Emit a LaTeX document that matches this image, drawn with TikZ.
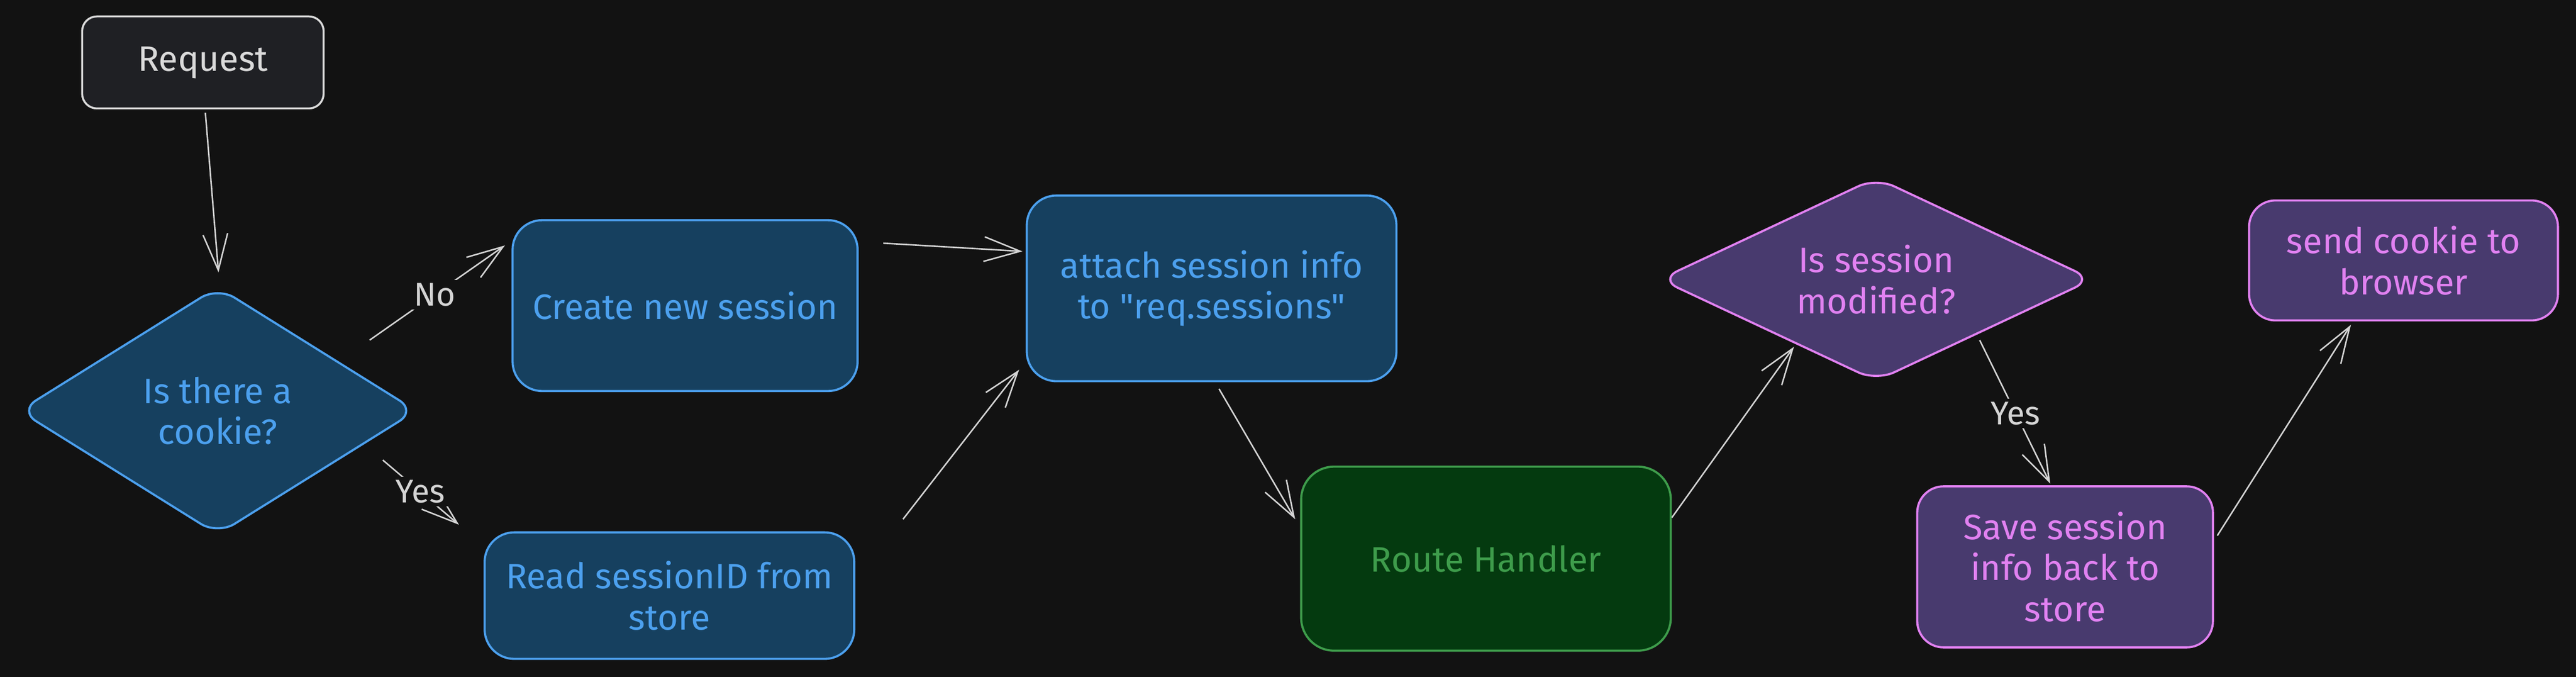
\documentclass[tikz,border=0pt]{standalone}
\usepackage{fontspec}
\setmainfont{Fira Sans}[Ligatures=TeXOff]
\usetikzlibrary{shapes.geometric,arrows.meta,calc}
\definecolor{bg}{HTML}{121212}
\definecolor{reqfill}{HTML}{1F2024}
\definecolor{reqline}{HTML}{DADADA}
\definecolor{bfill}{HTML}{16405F}
\definecolor{bline}{HTML}{4CA0EE}
\definecolor{gfill}{HTML}{043A0F}
\definecolor{gline}{HTML}{3E9C4B}
\definecolor{pfill}{HTML}{483A6E}
\definecolor{pline}{HTML}{E181F1}
\definecolor{arrcol}{HTML}{D4D4D4}
\begin{document}
\begin{tikzpicture}[x=1pt,y=1pt,
  every node/.style={font=\fontsize{21.5}{25}\selectfont, align=center, inner sep=0pt},
  reqbox/.style={draw=reqline, fill=reqfill, text=reqline, line width=1.2pt, rounded corners=9pt},
  bluebox/.style={draw=bline, fill=bfill, text=bline, line width=1.3pt, rounded corners=18pt},
  greenbox/.style={draw=gline, fill=gfill, text=gline, line width=1.3pt, rounded corners=20pt},
  purplebox/.style={draw=pline, fill=pfill, text=pline, line width=1.3pt, rounded corners=16pt},
  decision/.style={shape=diamond, rounded corners=12pt, line width=1.3pt},
  arr/.style={draw=arrcol, line width=0.9pt, -{Straight Barb[length=22pt,width=15pt,line width=0.9pt]}},
  lbl/.style={fill=bg, text=arrcol, font=\fontsize{20}{24}\selectfont, inner sep=2pt}
]
\fill[bg] (0,0) rectangle (1568,412);
\useasboundingbox (0,0) rectangle (1568,412);

\node[reqbox, minimum width=147pt, minimum height=56pt] (req) at (123.5,374) {Request};
\node[decision, aspect=1.6, draw=bline, fill=bfill, text=bline, minimum width=242pt, minimum height=151pt] (ck) at (132.5,162) {Is there a\\cookie?};
\node[bluebox, minimum width=210pt, minimum height=104pt] (create) at (417,226) {Create new session};
\node[bluebox, minimum width=225pt, minimum height=77pt] (read) at (407.5,49.5) {Read sessionID from\\store};
\node[bluebox, minimum width=225pt, minimum height=113pt] (attach) at (737.5,236.5) {attach session info\\to "req.sessions"};
\node[greenbox, minimum width=225pt, minimum height=112pt] (route) at (904.5,72) {Route Handler};
\node[decision, aspect=2.2, draw=pline, fill=pfill, text=pline, minimum width=264pt, minimum height=124pt] (mod) at (1142,242) {Is session\\modified?};
\node[purplebox, minimum width=180pt, minimum height=98pt] (save) at (1257,67) {Save session\\info back to\\store};
\node[purplebox, minimum width=188pt, minimum height=73pt] (send) at (1463,253.5) {send cookie to\\browser};

\draw[arr] ([shift={(1.5,-2)}]req.south) -- ([shift={(0.5,8)}]ck.north);
\draw[arr] ([shift={(92.5,43)}]ck.center) -- node[lbl, pos=0.48] {No} ([shift={(-4,-16)}]create.north west);
\draw[arr] ([shift={(100.5,-30)}]ck.center) -- node[lbl, pos=0.49] {Yes} ([shift={(-15,4)}]read.north west);
\draw[arr] ([shift={(15,38)}]create.east) -- ([shift={(-2,22.5)}]attach.west);
\draw[arr] ([shift={(29,46.5)}]read.east) -- ([shift={(-4,-49.5)}]attach.west);
\draw[arr] ([shift={(4.5,-4)}]attach.south) -- ([shift={(-3,24)}]route.west);
\draw[arr] ([shift={(0,25)}]route.east) -- ([shift={(-50,-41)}]mod.center);
\draw[arr] ([shift={(63,-37)}]mod.center) -- node[lbl, pos=0.51] {Yes} ([shift={(-9,1)}]save.north);
\draw[arr] ([shift={(2,19)}]save.east) -- ([shift={(-32,-2)}]send.south);
\end{tikzpicture}
\end{document}
